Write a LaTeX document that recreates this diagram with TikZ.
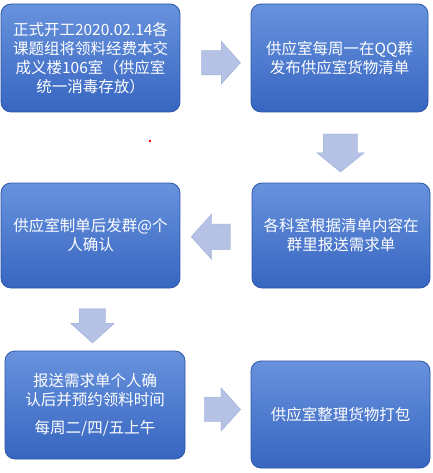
\documentclass[tikz,border=0pt]{standalone}
\usepackage{fontspec}
\setmainfont{Noto Sans CJK SC}
\usepackage{xcolor}
\definecolor{boxtop}{HTML}{6892DD}
\definecolor{boxbot}{HTML}{3766C1}
\definecolor{boxline}{HTML}{2D56A6}
\definecolor{arrfill}{HTML}{B5C2E6}
\definecolor{arrline}{HTML}{9AA9D6}
\usetikzlibrary{shapes.arrows,positioning}

\begin{document}
\begin{tikzpicture}[
  x=1pt, y=-1pt,
  box/.style={draw=boxline, line width=0.8pt, rounded corners=10pt, top color=boxtop, bottom color=boxbot,
    text=white, align=center, inner sep=0pt, font=\fontsize{15.5}{19}\selectfont},
  arr/.style={single arrow, draw=arrline, line width=0.4pt, fill=arrfill, inner xsep=0pt, single arrow tip angle=96},
  arrdown/.style={arr, inner ysep=0pt, inner xsep=#1, shape border rotate=270},
]
\useasboundingbox (0,0) rectangle (432,473);

% Row 1
\node[box, minimum width=179pt, minimum height=108pt] (start) at (90.5,58)
  {正式开工2020.02.14各\\课题组将领料经费本交\\成义楼106室（供应室\\统一消毒存放）};
\node[box, minimum width=177pt, minimum height=108pt] (publish) at (339.5,58)
  {供应室每周一在QQ群\\发布供应室货物清单};

% Row 2
\node[box, minimum width=179pt, minimum height=105pt] (confirm) at (90.5,235.5)
  {供应室制单后发群@个\\人确认};
\node[box, minimum width=178pt, minimum height=105pt] (request) at (341,235.5)
  {各科室根据清单内容在\\群里报送需求单};

% Row 3
\node[box, minimum width=180pt, minimum height=108pt] (book) at (95,405)
  {报送需求单个人确\\认后并预约领料时间\\[9pt]每周二/四/五上午};
\node[box, minimum width=179pt, minimum height=107pt] (pack) at (340.5,414.5)
  {供应室整理货物打包};

% Block arrows
\node[arr, minimum height=39pt, inner ysep=12pt, single arrow head extend=9pt] (a1) at (215.5,62.7) {};
\node[arrdown=17pt, minimum height=38pt, single arrow head extend=6.5pt, single arrow tip angle=102] (a2) at (340.5,146) {};
\node[arr, minimum height=39pt, inner ysep=12.5pt, single arrow head extend=10pt, shape border rotate=180] (a3) at (216.5,236.7) {};
\node[arrdown=13pt, minimum height=34pt, single arrow head extend=8.5pt] (a4) at (92.5,320) {};
\node[arr, minimum height=36pt, inner ysep=12pt, single arrow head extend=9.5pt] (a5) at (217,409.5) {};

% stray mark
\fill[red] (150,141) circle (1.3pt);
\end{tikzpicture}
\end{document}
